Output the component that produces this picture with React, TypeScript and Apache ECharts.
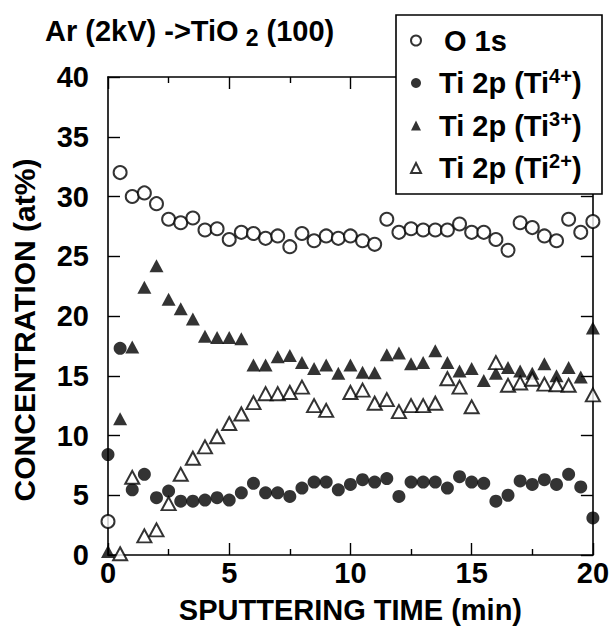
import React, { useEffect, useRef } from 'react';
import * as echarts from 'echarts';

// Sputtering time (min)
const times = [
  0, 0.5, 1, 1.5, 2, 2.5, 3, 3.5, 4, 4.5, 5, 5.5, 6, 6.5, 7, 7.5, 8, 8.5, 9, 9.5, 10,
  10.5, 11, 11.5, 12, 12.5, 13, 13.5, 14, 14.5, 15, 15.5, 16, 16.5, 17, 17.5, 18, 18.5, 19, 19.5, 20,
];

// O 1s (at%)
const o1s = [
  2.8, 32.0, 30.0, 30.3, 29.4, 28.1, 27.8, 28.2, 27.2, 27.3, 26.4, 27.0, 26.9, 26.5, 26.7, 25.8, 26.9, 26.3, 26.7, 26.5, 26.7,
  26.3, 26.0, 28.1, 27.0, 27.3, 27.2, 27.2, 27.2, 27.7, 27.0, 27.0, 26.4, 25.5, 27.8, 27.4, 26.7, 26.3, 28.1, 27.0, 27.9,
];

// Ti 2p (Ti4+)
const ti4 = [
  8.4, 17.3, 5.45, 6.75, 4.8, 5.35, 4.5, 4.5, 4.6, 4.8, 4.6, 5.2, 6.0, 5.2, 5.2, 4.9, 5.6, 6.1, 6.1, 5.45, 5.9,
  6.3, 6.1, 6.4, 4.9, 6.1, 6.1, 6.1, 5.6, 6.55, 6.1, 6.0, 4.5, 5.0, 6.2, 5.9, 6.3, 5.9, 6.75, 5.7, 3.1,
];

// Ti 2p (Ti3+)
const ti3 = [
  0.3, 11.4, 17.4, 22.4, 24.2, 21.4, 20.6, 19.75, 18.3, 18.2, 18.2, 18.1, 15.9, 15.9, 16.6, 16.7, 16.1, 15.6, 15.9, 15.2, 15.9,
  15.3, 15.25, 16.75, 16.9, 16.0, 16.1, 17.1, 16.1, 15.4, 15.6, 14.6, 15.2, 15.7, 15.4, 15.2, 16.0, 15.0, 15.7, 14.9, 19.0,
];

// Ti 2p (Ti2+)  (null = hidden / not visible)
const ti2: (number | null)[] = [
  null, 0.1, 6.5, 1.6, 2.1, 4.3, 6.75, 8.1, 9.05, 9.9, 11.0, 11.8, 12.75, 13.5, 13.5, 13.6, 14.05, 12.5, 12.1, null, 13.6,
  13.8, 12.7, 13.0, 12.0, 12.5, 12.5, 12.7, 14.75, 14.05, 12.4, null, 16.1, 14.2, 14.4, 14.7, 14.3, 14.25, 14.2, null, 13.4,
];

const seriesNames = ['O 1s', 'Ti 2p (Ti4+)', 'Ti 2p (Ti3+)', 'Ti 2p (Ti2+)'];
const titleMain = 'Ar (2kV) ->TiO';
const titleSub = '2';
const titleEnd = ' (100)';
const xName = 'SPUTTERING TIME (min)';
const yName = 'CONCENTRATION (at%)';

const FONT = '"Liberation Sans", Arial, Helvetica, sans-serif';
const INK = '#000000';

function pairs(ys: (number | null)[]) {
  const out: number[][] = [];
  times.forEach((t, i) => {
    const v = ys[i];
    if (v !== null && v !== undefined) out.push([t, v]);
  });
  return out;
}

export default function App() {
  const ref = useRef<HTMLDivElement>(null);
  useEffect(() => {
    const chart = echarts.init(ref.current!, undefined, { renderer: 'svg' });
    const axisLine = { show: true, onZero: false, lineStyle: { color: INK, width: 1.6 } };
    const tickStyle = { color: INK, width: 1.4 };
    const option: any = {
      animation: false,
      backgroundColor: '#ffffff',
      title: {
        text: `{a|${titleMain}}{s|${titleSub}}{a|${titleEnd}}`,
        left: 40,
        top: 7,
        textStyle: {
          rich: {
            a: { fontFamily: FONT, fontWeight: 'bold', fontSize: 29, color: INK },
            s: { fontFamily: FONT, fontWeight: 'bold', fontSize: 23, color: INK, padding: [14, 0, 0, 7] },
          },
        },
      },
      grid: { left: 108, right: 11, top: 77, bottom: 72, containLabel: false },
      legend: {
        orient: 'vertical',
        left: 410,
        top: 26,
        padding: 0,
        itemGap: 11,
        itemWidth: 10,
        itemHeight: 10,
        selectedMode: false,
        z: 10,
        data: seriesNames,
        textStyle: {
          padding: [0, 0, 0, 13],
          rich: {
            a: { fontFamily: FONT, fontWeight: 'bold', fontSize: 29, color: INK },
            o: { fontFamily: FONT, fontWeight: 'bold', fontSize: 29, color: INK, padding: [0, 0, 0, 5] },
            s: { fontFamily: FONT, fontWeight: 'bold', fontSize: 20, color: INK, padding: [0, 0, 14, 0] },
          },
        },
        formatter: (name: string) => {
          const m = name.match(/^(.*\(Ti)(\d\+)\)$/);
          if (m) return `{a|${m[1]}}{s|${m[2]}}{a|)}`;
          return `{o|${name}}`;
        },
      },
      graphic: [
        {
          type: 'rect',
          z: 5,
          shape: { x: 396, y: 15, width: 206, height: 179 },
          style: { fill: '#ffffff', stroke: INK, lineWidth: 1.6 },
        },
      ],
      xAxis: [
        {
          type: 'value',
          position: 'bottom',
          min: 0,
          max: 20,
          interval: 5,
          axisLine,
          axisTick: { show: true, inside: true, length: 12, lineStyle: tickStyle },
          minorTick: { show: true, splitNumber: 2, length: 6, lineStyle: tickStyle },
          splitLine: { show: false },
          minorSplitLine: { show: false },
          axisLabel: { fontFamily: FONT, fontWeight: 'bold', fontSize: 29, color: INK, margin: 3 },
          name: xName,
          nameLocation: 'middle',
          nameGap: 40,
          nameTextStyle: { fontFamily: FONT, fontWeight: 'bold', fontSize: 29, color: INK },
        },
        {
          type: 'value',
          position: 'top',
          min: 0,
          max: 20,
          interval: 5,
          axisLine,
          axisTick: { show: true, inside: true, length: 12, lineStyle: tickStyle },
          minorTick: { show: true, splitNumber: 2, length: 6, lineStyle: tickStyle },
          splitLine: { show: false },
          axisLabel: { show: false },
        },
      ],
      yAxis: [
        {
          type: 'value',
          position: 'left',
          min: 0,
          max: 40,
          interval: 5,
          axisLine,
          axisTick: { show: true, inside: true, length: 12, lineStyle: tickStyle },
          splitLine: { show: false },
          axisLabel: { fontFamily: FONT, fontWeight: 'bold', fontSize: 29, color: INK, margin: 19 },
          name: yName,
          nameLocation: 'middle',
          nameGap: 69,
          nameRotate: 90,
          nameTextStyle: { fontFamily: FONT, fontWeight: 'bold', fontSize: 30, color: INK, padding: [0, 28, 0, 0] },
        },
        {
          type: 'value',
          position: 'right',
          min: 0,
          max: 40,
          interval: 5,
          axisLine,
          axisTick: { show: true, inside: true, length: 12, lineStyle: tickStyle },
          splitLine: { show: false },
          axisLabel: { show: false },
        },
      ],
      series: [
        {
          name: seriesNames[0],
          type: 'scatter',
          symbol: 'emptyCircle',
          symbolSize: 13,
          itemStyle: { color: INK, borderWidth: 1.7 },
          data: pairs(o1s),
        },
        {
          name: seriesNames[1],
          type: 'scatter',
          symbol: 'circle',
          symbolSize: 13,
          itemStyle: { color: INK },
          data: pairs(ti4),
        },
        {
          name: seriesNames[2],
          type: 'scatter',
          symbol: 'triangle',
          symbolSize: [14, 13],
          itemStyle: { color: INK },
          data: pairs(ti3),
        },
        {
          name: seriesNames[3],
          type: 'scatter',
          symbol: 'emptyTriangle',
          symbolSize: [14, 13],
          itemStyle: { color: INK, borderWidth: 1.7 },
          data: pairs(ti2),
        },
      ],
    };
    chart.setOption(option);
    return () => chart.dispose();
  }, []);
  return <div ref={ref} style={{ position: 'absolute', left: 0, top: 0, width: 612, height: 629 }} />;
}
